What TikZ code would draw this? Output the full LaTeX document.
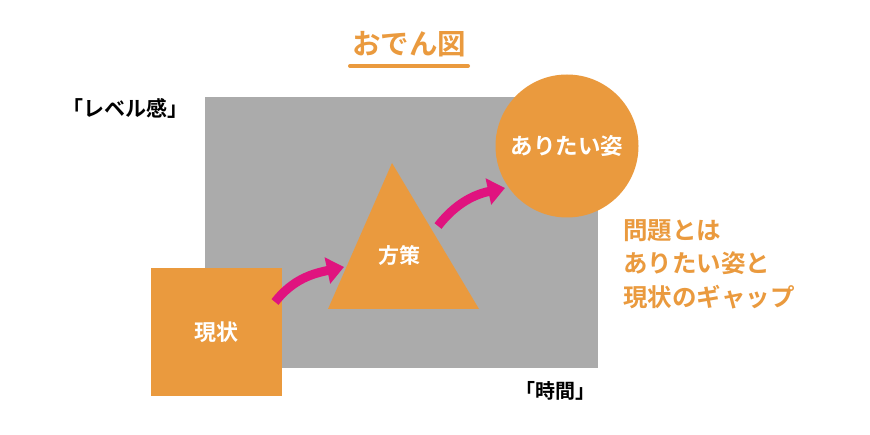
\documentclass[tikz,border=0pt]{standalone}
\usepackage{fontspec}
\newfontfamily\jp{Noto Sans CJK JP Bold}
\usetikzlibrary{arrows.meta}
\definecolor{oden}{HTML}{EA9A3E}
\definecolor{bg}{HTML}{ABABAB}
\definecolor{mag}{HTML}{E0137F}
\tikzset{
  orangetxt/.style={text=oden, font=\jp\fontsize{24.5}{33.5}\selectfont, align=left, inner sep=0pt},
  whitetxt/.style={text=white, font=\jp\fontsize{21}{24}\selectfont, inner sep=0pt},
  blacktxt/.style={text=black, font=\jp\fontsize{21}{24}\selectfont, inner sep=0pt},
  arr/.style={draw=mag, line width=9pt, -{Triangle[length=17pt,width=26pt]}},
}
\begin{document}
\begin{tikzpicture}[x=1pt,y=-1pt]
\useasboundingbox[fill=white] (0,0) rectangle (870,435);
% title
\node[text=oden, font=\jp\fontsize{28.5}{32}\selectfont, inner sep=0pt] (title) at (409,44) {おでん図};
\coordinate (ul1) at (350,66);
\coordinate (ul2) at (468,66);
\draw[oden, line width=4pt, line cap=round] (ul1) -- (ul2);
% background field
\fill[bg] (205,97) rectangle (598,368);
\node[blacktxt, anchor=west] (level) at (62,108) {「レベル感」};
\node[blacktxt, font=\jp\fontsize{20}{24}\selectfont, anchor=east] (time) at (596,391) {「時間」};
% goal circle
\node[circle, fill=oden, minimum size=143pt, inner sep=0pt] (goal) at (567,146) {};
\node[whitetxt, font=\jp\fontsize{22.5}{26}\selectfont] (goaltxt) at (goal) {ありたい姿};
% triangle
\fill[oden] (392,163) -- (479,309) -- (328,309) -- cycle;
\node[whitetxt] (measure) at (399,256) {方策};
% current square
\node[rectangle, fill=oden, minimum width=131pt, minimum height=128pt, inner sep=0pt] (now) at (216,332) {};
\node[whitetxt, font=\jp\fontsize{22}{26}\selectfont] (nowtxt) at (now) {現状};
% arrows
\coordinate (a1s) at (275,302);
\coordinate (a1e) at (344,267);
\coordinate (a2s) at (438,226);
\coordinate (a2e) at (505,188);
\draw[arr] (a1s) to[out=52, in=-168] (a1e);
\draw[arr] (a2s) to[out=52, in=-168] (a2e);
% explanation
\node[orangetxt, anchor=north west] (expl) at (623,219) {問題とは\\ありたい姿と\\現状のギャップ};
\end{tikzpicture}
\end{document}
